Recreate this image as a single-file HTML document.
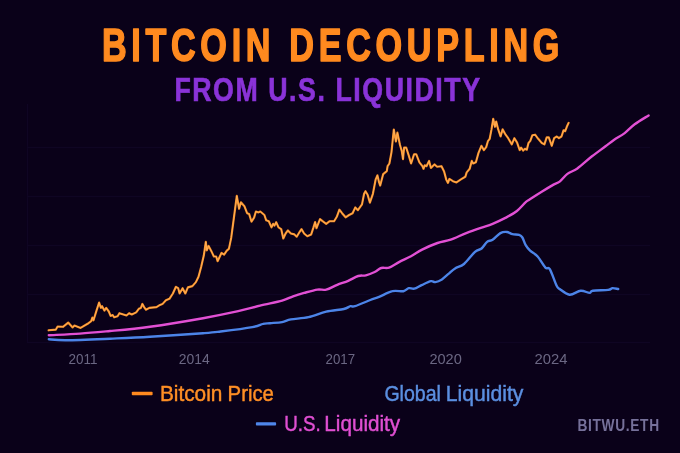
<!DOCTYPE html>
<html><head><meta charset="utf-8"><title>Bitcoin Decoupling</title>
<style>
html,body{margin:0;padding:0;background:#0a0119;}
svg{display:block}
text{font-family:"Liberation Sans",sans-serif;}
</style></head>
<body>
<svg width="680" height="453" viewBox="0 0 680 453">
<rect width="680" height="453" fill="#0a0119"/>
<g stroke="#0f0523" stroke-width="1.3" fill="none">
<line x1="27.5" y1="104" x2="27.5" y2="343"/>
<line x1="27" y1="147.5" x2="650" y2="147.5"/>
<line x1="27" y1="196.5" x2="650" y2="196.5"/>
<line x1="27" y1="245.5" x2="650" y2="245.5"/>
<line x1="27" y1="294.5" x2="650" y2="294.5"/>
<line x1="27" y1="342.5" x2="650" y2="342.5"/>
</g>
<path d="M48.8,339.3C51.8,339.5 56.3,340.4 66.5,340.3C76.7,340.2 96.1,339.3 110.0,338.7C123.9,338.1 134.5,337.7 150.0,336.8C165.5,335.9 191.2,334.1 203.0,333.2C214.8,332.3 212.4,332.5 220.6,331.5C228.8,330.5 245.3,328.4 252.4,327.1C259.5,325.8 260.1,324.5 263.0,323.9C265.9,323.2 266.8,323.5 270.0,323.2C273.2,322.9 278.6,322.7 282.1,322.1C285.6,321.5 286.5,320.2 290.9,319.4C295.3,318.6 302.6,318.5 308.5,317.2C314.4,315.9 320.3,313.1 326.2,311.7C332.1,310.3 339.8,309.9 343.8,309.0C347.8,308.1 348.5,306.7 350.4,306.2C352.2,305.7 351.6,307.2 354.9,306.2C358.2,305.2 366.3,301.6 370.3,300.0C374.3,298.4 375.4,298.4 379.1,296.9C382.8,295.4 388.3,292.1 392.4,291.2C396.4,290.2 400.7,291.7 403.4,291.2C406.1,290.7 407.0,288.6 408.8,288.2C410.6,287.8 412.1,289.2 414.3,288.7C416.5,288.1 419.3,286.1 422.1,284.9C424.9,283.6 428.7,281.7 430.9,281.2C433.1,280.7 433.5,282.4 435.3,282.1C437.1,281.8 439.7,280.8 441.9,279.4C444.1,278.0 446.3,275.7 448.5,273.9C450.7,272.1 452.5,270.0 455.1,268.4C457.7,266.8 460.7,266.8 464.0,264.0C467.3,261.2 472.1,254.4 475.0,251.8C477.9,249.2 479.6,250.2 481.6,248.5C483.6,246.8 485.3,243.4 487.1,241.9C488.9,240.4 490.4,241.2 492.6,239.7C494.8,238.2 498.0,234.4 500.4,233.1C502.8,231.8 505.0,231.8 507.0,232.0C509.0,232.2 510.5,233.7 512.5,234.2C514.5,234.7 517.5,234.3 519.1,234.9C520.8,235.5 521.3,235.8 522.4,237.5C523.5,239.2 524.4,243.0 525.7,245.2C527.0,247.4 528.1,248.8 530.1,250.7C532.1,252.6 535.1,253.7 537.6,256.5C540.1,259.3 543.4,265.5 545.4,267.6C547.4,269.7 548.0,266.2 549.8,269.1C551.6,272.0 554.8,281.9 556.4,285.2C558.0,288.5 557.5,287.4 559.7,289.0C561.9,290.6 566.1,294.4 569.6,294.7C573.1,295.0 577.4,291.0 580.7,290.7C584.0,290.4 587.5,292.9 589.5,292.9C591.5,292.9 589.7,291.2 592.8,290.7C595.9,290.2 604.9,290.3 608.2,289.9C611.5,289.5 610.9,288.2 612.6,288.1C614.3,288.0 617.3,288.9 618.2,289.0" fill="none" stroke="#4c84e8" stroke-width="2.4" stroke-linejoin="round" stroke-linecap="round"/>
<path d="M48.8,335.3C54.0,335.0 69.8,334.3 80.0,333.6C90.2,332.9 98.3,332.1 110.0,331.0C121.7,329.9 134.5,328.8 150.0,326.7C165.5,324.6 188.3,320.8 203.0,318.2C217.7,315.6 228.7,313.3 238.2,311.2C247.7,309.1 252.7,307.4 260.0,305.7C267.3,303.9 276.6,302.3 282.1,300.7C287.6,299.1 289.4,297.6 293.1,296.3C296.8,295.0 300.1,294.0 304.1,292.9C308.2,291.8 313.7,290.2 317.4,289.6C321.1,289.1 322.9,290.4 326.2,289.6C329.5,288.8 333.5,286.3 337.2,284.8C340.9,283.3 344.7,282.3 348.2,280.8C351.7,279.3 355.2,276.9 358.2,276.0C361.1,275.1 363.1,276.0 365.9,275.3C368.6,274.6 372.1,273.2 374.7,272.0C377.3,270.8 378.9,268.7 381.3,268.0C383.7,267.3 386.2,268.6 389.1,267.6C392.1,266.6 395.4,264.0 399.0,262.1C402.6,260.2 407.1,258.4 411.0,256.3C414.9,254.2 417.7,251.8 422.1,249.6C426.5,247.4 432.7,244.7 437.5,243.0C442.3,241.3 445.9,241.3 450.7,239.7C455.5,238.0 461.0,235.1 466.2,233.1C471.4,231.1 477.2,229.1 481.6,227.6C486.0,226.1 488.6,225.5 492.6,223.8C496.7,222.1 501.8,219.7 505.9,217.6C509.9,215.5 513.6,213.6 516.9,211.0C520.2,208.4 523.5,204.1 525.7,202.2C527.9,200.2 527.2,201.1 529.9,199.3C532.6,197.5 538.2,193.9 542.1,191.5C546.0,189.1 550.2,186.6 553.1,184.9C556.0,183.2 557.3,183.4 559.7,181.6C562.1,179.8 564.5,176.1 567.4,173.9C570.3,171.7 573.3,171.3 577.4,168.4C581.5,165.5 587.3,160.0 592.0,156.3C596.7,152.6 601.8,149.1 605.5,146.3C609.2,143.5 611.0,141.9 614.2,139.7C617.4,137.5 621.3,135.7 624.7,133.1C628.1,130.5 630.7,127.2 634.7,124.3C638.7,121.3 646.3,116.9 648.6,115.4" fill="none" stroke="#e250d4" stroke-width="2.4" stroke-linejoin="round" stroke-linecap="round"/>
<polyline points="48.6,330.3 55.9,329.6 57.6,326.5 63.0,326.8 68.2,322.6 72.6,327.4 74.4,325.6 80.6,327.9 87.6,323.8 91.2,321.2 92.4,317.6 93.5,320.3 96.5,310.6 99.1,302.6 100.9,307.9 102.1,306.2 104.4,310.6 106.2,307.9 108.8,311.5 110.6,315.9 112.7,315.0 114.1,317.3 117.6,316.2 119.4,313.2 126.5,315.5 129.1,313.2 131.8,314.5 136.2,312.4 138.8,308.8 140.9,307.9 142.4,303.9 144.1,307.1 145.9,309.7 149.4,307.9 156.5,307.1 160.0,304.9 162.4,304.1 165.9,300.2 169.4,298.8 172.9,293.5 175.9,286.8 178.2,288.2 179.6,293.5 182.6,288.2 185.3,293.5 187.9,287.4 192.4,286.1 195.9,282.1 198.5,276.8 201.2,266.8 203.8,255.6 205.8,241.8 206.8,250.3 208.6,245.9 211.8,252.1 213.9,256.5 216.2,256.5 217.6,261.2 221.5,252.9 224.1,254.7 226.8,250.6 228.9,248.9 231.2,237.9 233.8,218.5 236.8,195.9 239.1,208.8 240.9,202.3 244.4,206.2 247.1,213.2 249.2,214.1 251.5,221.7 254.1,217.6 255.9,211.5 258.5,212.4 260.3,211.5 264.4,215.0 266.2,220.3 268.8,221.2 271.5,227.4 273.2,223.8 274.5,225.6 276.2,222.1 278.5,227.4 281.2,229.1 283.3,238.5 285.6,233.5 287.9,230.4 290.9,233.5 294.4,234.4 296.7,236.7 299.7,231.8 301.5,229.1 304.1,233.5 307.3,236.2 311.2,234.4 313.5,227.4 315.1,222.1 316.5,228.2 320.0,219.1 322.6,221.2 326.2,223.8 329.7,221.2 334.1,221.2 336.8,216.8 339.4,209.7 342.1,213.2 345.6,217.3 349.1,215.0 352.6,213.2 355.3,207.4 357.9,210.2 362.0,204.4 364.1,193.8 365.5,191.2 367.6,194.7 369.9,202.6 372.9,193.8 375.6,179.7 377.4,175.3 379.1,182.4 380.2,185.6 383.2,174.1 386.8,171.1 387.6,166.2 389.4,163.5 391.5,152.1 393.8,129.5 395.9,141.5 397.4,132.6 400.0,145.0 401.8,151.2 403.0,159.1 404.1,147.6 406.2,147.6 408.8,155.6 411.1,163.5 414.1,154.2 416.2,154.2 419.4,162.3 422.4,166.2 423.5,168.8 424.7,165.3 426.5,166.2 429.1,160.9 430.9,167.9 434.4,164.4 437.1,166.7 441.5,166.2 444.1,171.5 446.2,179.4 448.0,182.9 449.4,178.9 452.9,181.2 456.5,182.4 460.9,179.4 465.3,176.8 466.7,172.4 469.7,168.8 471.8,160.9 473.2,163.5 475.9,162.3 478.5,152.9 481.4,145.8 483.9,150.1 486.2,147.1 487.9,141.2 489.7,138.8 491.5,129.4 493.2,118.8 495.0,126.8 496.2,121.5 498.2,129.4 500.6,136.5 502.6,129.4 505.6,134.7 508.2,138.2 511.8,144.4 514.4,138.2 517.1,142.6 519.7,150.1 521.1,147.6 523.2,150.6 525.0,148.8 526.8,149.7 528.5,143.0 530.3,140.9 532.4,135.2 535.1,134.7 538.2,138.8 541.8,143.0 544.4,144.4 546.7,137.4 548.8,137.4 551.8,145.8 554.1,138.2 556.8,136.5 558.9,138.2 561.5,136.5 563.5,130.3 565.2,131.2 566.8,126.8 568.6,122.9" fill="none" stroke="#f58c22" stroke-width="2.15" stroke-linejoin="round" stroke-linecap="round"/>
<polyline points="48.6,330.3 55.9,329.6 57.6,326.5 63.0,326.8 68.2,322.6 72.6,327.4 74.4,325.6 80.6,327.9 87.6,323.8 91.2,321.2 92.4,317.6 93.5,320.3 96.5,310.6 99.1,302.6 100.9,307.9 102.1,306.2 104.4,310.6 106.2,307.9 108.8,311.5 110.6,315.9 112.7,315.0 114.1,317.3 117.6,316.2 119.4,313.2 126.5,315.5 129.1,313.2 131.8,314.5 136.2,312.4 138.8,308.8 140.9,307.9 142.4,303.9 144.1,307.1 145.9,309.7 149.4,307.9 156.5,307.1 160.0,304.9 162.4,304.1 165.9,300.2 169.4,298.8 172.9,293.5 175.9,286.8 178.2,288.2 179.6,293.5 182.6,288.2 185.3,293.5 187.9,287.4 192.4,286.1 195.9,282.1 198.5,276.8 201.2,266.8 203.8,255.6 205.8,241.8 206.8,250.3 208.6,245.9 211.8,252.1 213.9,256.5 216.2,256.5 217.6,261.2 221.5,252.9 224.1,254.7 226.8,250.6 228.9,248.9 231.2,237.9 233.8,218.5 236.8,195.9 239.1,208.8 240.9,202.3 244.4,206.2 247.1,213.2 249.2,214.1 251.5,221.7 254.1,217.6 255.9,211.5 258.5,212.4 260.3,211.5 264.4,215.0 266.2,220.3 268.8,221.2 271.5,227.4 273.2,223.8 274.5,225.6 276.2,222.1 278.5,227.4 281.2,229.1 283.3,238.5 285.6,233.5 287.9,230.4 290.9,233.5 294.4,234.4 296.7,236.7 299.7,231.8 301.5,229.1 304.1,233.5 307.3,236.2 311.2,234.4 313.5,227.4 315.1,222.1 316.5,228.2 320.0,219.1 322.6,221.2 326.2,223.8 329.7,221.2 334.1,221.2 336.8,216.8 339.4,209.7 342.1,213.2 345.6,217.3 349.1,215.0 352.6,213.2 355.3,207.4 357.9,210.2 362.0,204.4 364.1,193.8 365.5,191.2 367.6,194.7 369.9,202.6 372.9,193.8 375.6,179.7 377.4,175.3 379.1,182.4 380.2,185.6 383.2,174.1 386.8,171.1 387.6,166.2 389.4,163.5 391.5,152.1 393.8,129.5 395.9,141.5 397.4,132.6 400.0,145.0 401.8,151.2 403.0,159.1 404.1,147.6 406.2,147.6 408.8,155.6 411.1,163.5 414.1,154.2 416.2,154.2 419.4,162.3 422.4,166.2 423.5,168.8 424.7,165.3 426.5,166.2 429.1,160.9 430.9,167.9 434.4,164.4 437.1,166.7 441.5,166.2 444.1,171.5 446.2,179.4 448.0,182.9 449.4,178.9 452.9,181.2 456.5,182.4 460.9,179.4 465.3,176.8 466.7,172.4 469.7,168.8 471.8,160.9 473.2,163.5 475.9,162.3 478.5,152.9 481.4,145.8 483.9,150.1 486.2,147.1 487.9,141.2 489.7,138.8 491.5,129.4 493.2,118.8 495.0,126.8 496.2,121.5 498.2,129.4 500.6,136.5 502.6,129.4 505.6,134.7 508.2,138.2 511.8,144.4 514.4,138.2 517.1,142.6 519.7,150.1 521.1,147.6 523.2,150.6 525.0,148.8 526.8,149.7 528.5,143.0 530.3,140.9 532.4,135.2 535.1,134.7 538.2,138.8 541.8,143.0 544.4,144.4 546.7,137.4 548.8,137.4 551.8,145.8 554.1,138.2 556.8,136.5 558.9,138.2 561.5,136.5 563.5,130.3 565.2,131.2 566.8,126.8 568.6,122.9" fill="none" stroke="#ffb664" stroke-width="0.8" stroke-linejoin="round" stroke-linecap="round"/>

<g transform="translate(101.9,61.4) scale(0.735,1)"><text id="title" x="0" y="0" font-size="46.5" font-weight="bold" fill="#ff8a1f" stroke="#ff8a1f" stroke-width="1.4" vector-effect="non-scaling-stroke" stroke-linejoin="round" textLength="622.4" lengthAdjust="spacing">BITCOIN DECOUPLING</text></g>
<g transform="translate(174.4,100.7) scale(0.81,1)"><text id="sub" x="0" y="0" font-size="33" font-weight="bold" fill="#8a33d8" stroke="#8a33d8" stroke-width="0.6" vector-effect="non-scaling-stroke" textLength="377.3" lengthAdjust="spacing">FROM U.S. LIQUIDITY</text></g>

<g font-size="15.1" fill="#6b6783">
<text x="68.6" y="364.4" textLength="29" lengthAdjust="spacingAndGlyphs">2011</text>
<text x="178.8" y="364.4" textLength="31" lengthAdjust="spacingAndGlyphs">2014</text>
<text x="325.6" y="364.4" textLength="29.5" lengthAdjust="spacingAndGlyphs">2017</text>
<text x="429.4" y="364.4" textLength="32.4" lengthAdjust="spacingAndGlyphs">2020</text>
<text x="534.4" y="364.4" textLength="33" lengthAdjust="spacingAndGlyphs">2024</text>
</g>

<rect x="131.8" y="391.8" width="20.8" height="3.4" rx="0.8" fill="#ff8a1f"/>
<g font-size="21.7" stroke-width="0.45">
<text x="159.9" y="401.1" fill="#ff8f25" stroke="#ff8f25" textLength="62.5" lengthAdjust="spacingAndGlyphs">Bitcoin</text>
<text x="227.6" y="401.1" fill="#ff8f25" stroke="#ff8f25" textLength="46.3" lengthAdjust="spacingAndGlyphs">Price</text>
<text x="384.4" y="401.1" fill="#5b8fe0" stroke="#5b8fe0" textLength="56.5" lengthAdjust="spacingAndGlyphs">Global</text>
<text x="445.8" y="401.1" fill="#5b8fe0" stroke="#5b8fe0" textLength="77.6" lengthAdjust="spacingAndGlyphs">Liquidity</text>
<text x="284.2" y="431.1" fill="#e04fd2" stroke="#e04fd2" textLength="36.5" lengthAdjust="spacingAndGlyphs">U.S.</text>
<text x="324.3" y="431.1" fill="#e04fd2" stroke="#e04fd2" textLength="75.9" lengthAdjust="spacingAndGlyphs">Liquidity</text>
</g>
<rect x="255.9" y="422.3" width="20.2" height="3.3" rx="0.8" fill="#4f86ea"/>
<g transform="translate(577.5,430.8) scale(0.8,1)"><text x="0" y="0" font-size="17.2" font-weight="bold" fill="#76719a" textLength="102.0" lengthAdjust="spacing">BITWU.ETH</text></g>
</svg>
</body></html>
